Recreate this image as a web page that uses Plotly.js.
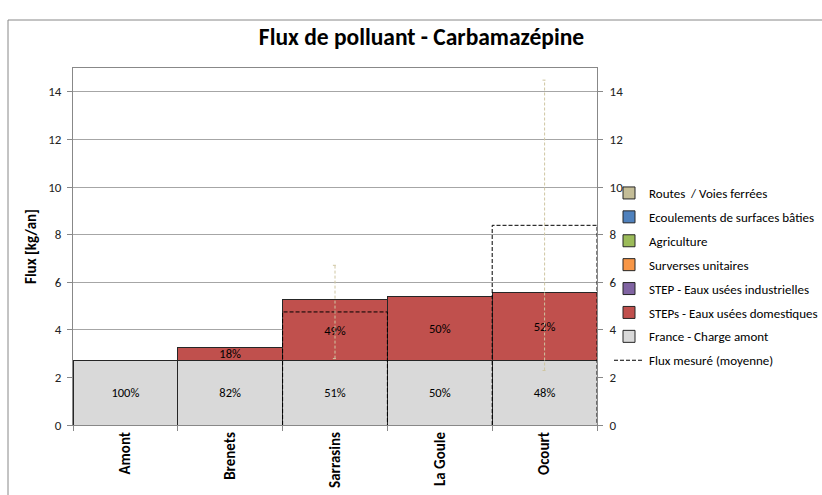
<!DOCTYPE html>
<html>
<head>
<meta charset="utf-8">
<script src="https://cdn.plot.ly/plotly-3.0.1.min.js"></script>
<style>html,body{margin:0;padding:0;background:#fff;}#chart{width:822px;height:495px;}</style>
</head>
<body>
<div id="chart"></div>
<script>
// ---- data ----
const categories = ["Amont", "Brenets", "Sarrasins", "La Goule", "Ocourt"];
const franceChargeAmont = [2.7, 2.7, 2.7, 2.7, 2.7];
const stepsDomestiques = [0, 0.57, 2.57, 2.69, 2.85];
const stepIndustrielles = [0, 0, 0, 0, 0];
const surversesUnitaires = [0, 0, 0, 0, 0];
const agriculture = [0, 0, 0, 0, 0];
const ecoulementsBaties = [0, 0, 0, 0, 0];
const routesVoies = [0, 0, 0, 0, 0];
const pctFrance = ["100%", "82%", "51%", "50%", "48%"];
const pctDomestiques = ["", "18%", "49%", "50%", "52%"];
const fluxMesure = [null, null, 4.75, null, 8.39];
const fluxErreur = [null, null, 1.96, null, 6.1];
const yTicks = [0, 2, 4, 6, 8, 10, 12, 14];

const FONT = "Carlito, Lato, 'Liberation Sans', sans-serif";
const edge = {color: "#262626", width: 1};

function barTrace(name, vals, color, rank, text) {
  const t = {
    type: "bar", name: name, x: categories, y: vals,
    marker: {color: color, line: edge},
    legendrank: rank, legendgroup: "g" + rank,
    hoverinfo: "skip"
  };
  if (text) {
    t.text = text; t.textposition = "inside"; t.insidetextanchor = "middle";
    t.textangle = 0; t.textfont = {family: FONT, size: 12.5, color: "#000"};
  } else {
    t.textposition = "none";
  }
  return t;
}

// dashed outline boxes for measured flux (numeric overlay axis x2)
const boxX = [], boxY = [];
const errX = [], errY = [];
fluxMesure.forEach((m, i) => {
  if (m === null) return;
  boxX.push(i - 0.5, i - 0.5, i + 0.5, i + 0.5, null);
  boxY.push(0, m, m, 0, null);
  const e = fluxErreur[i];
  errX.push(i, i, null, i - 0.02, i + 0.02, null, i - 0.02, i + 0.02, null);
  errY.push(m - e, m + e, null, m + e, m + e, null, m - e, m - e, null);
});

const traces = [
  barTrace("France - Charge amont", franceChargeAmont, "#D9D9D9", 7, pctFrance),
  barTrace("STEPs - Eaux usées domestiques", stepsDomestiques, "#C0504D", 6, pctDomestiques),
  barTrace("STEP - Eaux usées industrielles", stepIndustrielles, "#8064A2", 5),
  barTrace("Surverses unitaires", surversesUnitaires, "#F79646", 4),
  barTrace("Agriculture", agriculture, "#9BBB59", 3),
  barTrace("Ecoulements de surfaces bâties", ecoulementsBaties, "#4F81BD", 2),
  barTrace("Routes  / Voies ferrées", routesVoies, "#C4BD97", 1),
  {
    type: "scatter", mode: "lines", name: "Flux mesuré (moyenne)",
    x: boxX, y: boxY, xaxis: "x2", yaxis: "y2",
    line: {color: "#000", width: 1, dash: "4px,2px"},
    legendrank: 8, legendgroup: "g8", hoverinfo: "skip"
  },
  {
    type: "scatter", mode: "lines", name: "err", showlegend: false,
    x: errX, y: errY, xaxis: "x2", yaxis: "y2",
    line: {color: "#CFC6A2", width: 1, dash: "3px,2px"}, hoverinfo: "skip"
  }
];

const L = 73, R = 225, T = 68, B = 70, W = 822, H = 495;
const pw = W - L - R, ph = H - T - B;

const layout = {
  width: W, height: H,
  margin: {l: L, r: R, t: T, b: B, pad: 0, autoexpand: false},
  paper_bgcolor: "#fff", plot_bgcolor: "#fff",
  font: {family: FONT, size: 12.5, color: "#000"},
  barmode: "stack", bargap: 0,
  uniformtext: {minsize: 12.5, mode: "show"},
  showlegend: true,
  title: {
    text: "<b>Flux de polluant - Carbamazépine</b>",
    font: {family: FONT, size: 23.5, color: "#000"},
    xref: "paper", x: (421.5 - L) / pw, xanchor: "center",
    yref: "container", y: 1 - 37 / H, yanchor: "middle"
  },
  xaxis: {
    type: "category", automargin: false,
    tickangle: -90, tickfont: {family: FONT, size: 15, color: "#000", weight: "bold"},
    ticks: "outside", ticklen: 5, tickcolor: "#888", tickson: "boundaries",
    showgrid: false, showline: true, linecolor: "#888", mirror: true,
    fixedrange: true
  },
  xaxis2: {overlaying: "x", range: [-0.5, 4.5], visible: false, fixedrange: true},
  yaxis: {
    range: [0, 15], tickvals: yTicks, automargin: false,
    tickfont: {family: FONT, size: 13, color: "#222"},
    ticks: "outside", ticklen: 5, tickcolor: "#888", ticklabelstandoff: 3,
    showgrid: true, gridcolor: "#A6A6A6", gridwidth: 1,
    showline: true, linecolor: "#888", zeroline: false,
    title: {text: "<b>Flux [kg/an]</b>", font: {family: FONT, size: 15, color: "#000"}, standoff: 7},
    fixedrange: true
  },
  yaxis2: {
    overlaying: "y", anchor: "x2", side: "right", range: [0, 15], tickvals: yTicks,
    tickfont: {family: FONT, size: 13, color: "#222"},
    ticks: "outside", ticklen: 5, tickcolor: "#888", ticklabelstandoff: 4,
    showgrid: false, showline: true, linecolor: "#888", zeroline: false,
    automargin: false, fixedrange: true
  },
  legend: {
    xref: "container", yref: "container",
    x: 609 / W, xanchor: "left", y: 1 - 178 / H, yanchor: "top",
    traceorder: "grouped", tracegroupgap: 4,
    font: {family: FONT, size: 13, color: "#000"},
    bgcolor: "rgba(0,0,0,0)", itemclick: false, itemdoubleclick: false
  },
  shapes: [{
    type: "rect", xref: "paper", yref: "paper", layer: "below",
    x0: (8 - L) / pw, x1: (W + 20 - L) / pw,
    y0: -(H + 20 - T - ph) / ph, y1: 1 + (T - 20) / ph,
    line: {color: "#888", width: 1}, fillcolor: "rgba(0,0,0,0)"
  }]
};

Plotly.newPlot("chart", traces, layout, {staticPlot: true, displayModeBar: false});
</script>
</body>
</html>
